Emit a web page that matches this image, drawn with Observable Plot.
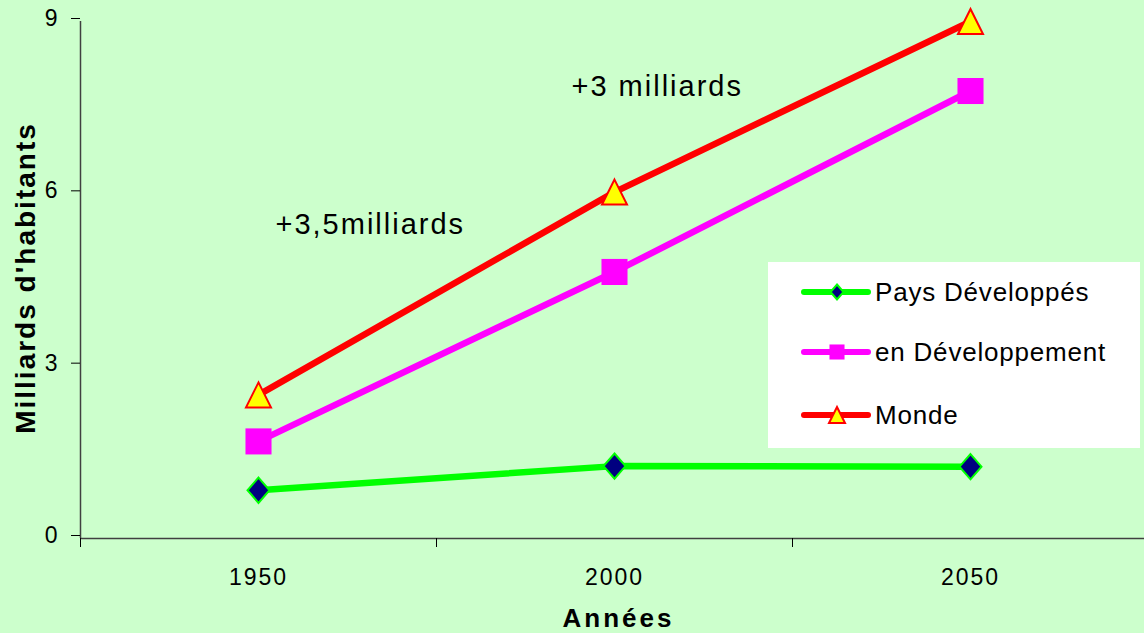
<!DOCTYPE html>
<html>
<head>
<meta charset="utf-8">
<script src="https://cdn.jsdelivr.net/npm/d3@7"></script>
<script src="https://cdn.jsdelivr.net/npm/@observablehq/plot@0.6"></script>
<style>
  html, body { margin: 0; padding: 0; background: #CCFFCC; }
  #chart { position: relative; width: 1144px; height: 633px; background: #CCFFCC; overflow: hidden;
           font-family: "Liberation Sans", Arial, sans-serif; }
  #chart svg text { font-family: "Liberation Sans", Arial, sans-serif; }
  g[aria-label="x-axis tick label"] text { letter-spacing: 2px; }
  g[aria-description="annotation"] text { letter-spacing: 2px; }
  g[aria-description="x-title"] text { letter-spacing: 3px; }
  g[aria-description="y-title"] text { letter-spacing: 2px; }
  #legend { position: absolute; left: 768px; top: 262px; width: 372px; height: 186px; background: #FFFFFF; }
  .lg-row { position: absolute; left: 0; height: 40px; display: flex; align-items: center; }
  .lg-row svg { display: block; }
  .lg-row span { font-size: 26px; letter-spacing: 0.8px; color: #000; margin-left: 4px; white-space: nowrap; }
</style>
</head>
<body>
<div id="chart"></div>
<script>
// ---- data ----
const years = [1950, 2000, 2050];
const paysDeveloppes = [0.84, 1.26, 1.25];
const enDeveloppement = [1.69, 4.64, 7.79];
const monde = [2.5, 6.03, 9.0];
const seriesNames = ["Pays Développés", "en Développement", "Monde"];
const yTicks = [0, 3, 6, 9];
const xBoundaries = [1925, 1975, 2025];
const annotationTexts = ["+3,5milliards", "+3 milliards"];
const annotationYears = [1965.7, 2006];
const annotationValues = [5.46, 7.86];
const xTitle = "Années";
const yTitle = "Milliards d'habitants";

// ---- styles ----
const diamondSym = { draw(ctx, size) { const r = Math.sqrt(size / Math.PI);
  ctx.moveTo(0, -r * 1.15); ctx.lineTo(r, 0); ctx.lineTo(0, r * 1.15); ctx.lineTo(-r, 0); ctx.closePath(); } };
const triangleSym = { draw(ctx, size) { const r = Math.sqrt(size / Math.PI);
  ctx.moveTo(0, -r); ctx.lineTo(r, r); ctx.lineTo(-r, r); ctx.closePath(); } };
const styles = [
  { line: "#00FF00", fill: "#000080", mstroke: "#00FF00", symbol: diamondSym, r: 11, lr: 6.5 },
  { line: "#FF00FF", fill: "#FF00FF", mstroke: "none", symbol: "square", r: 14.7, lr: 8.5 },
  { line: "#FF0000", fill: "#FFFF00", mstroke: "#FF0000", symbol: triangleSym, r: 12.5, lr: 8 }
];

const seriesValues = [paysDeveloppes, enDeveloppement, monde];
const seriesRows = seriesValues.map((vals, i) => years.map((y, j) => ({ series: seriesNames[i], year: y, value: vals[j] })));
const annotations = annotationTexts.map((t, i) => ({ text: t, year: annotationYears[i], value: annotationValues[i] }));

const marks = [
  Plot.ruleY([0], { stroke: "#404040", strokeWidth: 1.5 }),
  Plot.ruleX([xBoundaries[0]], { stroke: "#404040", strokeWidth: 1.5 }),
  Plot.axisY({ ticks: yTicks, tickSize: 9, tickPadding: 14, fontSize: 23, label: null, dy: -3, tickFormat: d => String(d) }),
  Plot.axisX({ ticks: xBoundaries, tickSize: 9, tickFormat: () => "", label: null }),
  Plot.axisX({ ticks: years, tickSize: 0, tickPadding: 30, fontSize: 23, label: null, tickFormat: d => String(d) })
];
seriesRows.forEach((rows, i) => {
  marks.push(Plot.line(rows, { x: "year", y: "value", stroke: styles[i].line, strokeWidth: 6.5, strokeLinejoin: "round", strokeLinecap: "round" }));
});
seriesRows.forEach((rows, i) => {
  marks.push(Plot.dot(rows, { x: "year", y: "value", symbol: styles[i].symbol, r: styles[i].r,
    fill: styles[i].fill, stroke: styles[i].mstroke, strokeWidth: 2 }));
});
marks.push(
  Plot.text(annotations, { x: "year", y: "value", text: "text", fontSize: 29, fill: "#000",
    textAnchor: "middle", lineAnchor: "middle", ariaDescription: "annotation" }),
  Plot.text([xTitle], { frameAnchor: "bottom", textAnchor: "middle", lineAnchor: "middle", dy: 80, dx: 4,
    fontSize: 26, fontWeight: "bold", fill: "#000", ariaDescription: "x-title" }),
  Plot.text([yTitle], { frameAnchor: "left", rotate: -90, textAnchor: "middle", lineAnchor: "middle", dx: -54, dy: -2,
    fontSize: 28, fontWeight: "bold", fill: "#000", ariaDescription: "y-title" })
);

const chart = Plot.plot({
  width: 1144,
  height: 633,
  marginLeft: 80,
  marginRight: -4,
  marginTop: 21,
  marginBottom: 95,
  style: { background: "transparent", fontFamily: "'Liberation Sans', Arial, sans-serif", color: "#000", overflow: "visible" },
  x: { type: "linear", domain: [xBoundaries[0], 2075] },
  y: { domain: [yTicks[0], yTicks[yTicks.length - 1]] },
  marks
});
const root = document.getElementById("chart");
root.appendChild(chart);

// ---- legend ----
const legend = document.createElement("div");
legend.id = "legend";
const rowCenters = [30, 90, 153];
seriesNames.forEach((name, i) => {
  const st = styles[i];
  const row = document.createElement("div");
  row.className = "lg-row";
  row.style.top = (rowCenters[i] - 20) + "px";
  row.style.left = "33px";
  const svg = d3.create("svg").attr("width", 70).attr("height", 40);
  svg.append("line").attr("x1", 3).attr("x2", 67).attr("y1", 20).attr("y2", 20)
    .attr("stroke", st.line).attr("stroke-width", 6).attr("stroke-linecap", "round");
  const size = Math.PI * st.lr * st.lr;
  const sym = typeof st.symbol === "string" ? d3.symbolSquare : st.symbol;
  svg.append("path").attr("d", d3.symbol(sym, size)()).attr("transform", "translate(36,20)")
    .attr("fill", st.fill).attr("stroke", st.mstroke).attr("stroke-width", 2);
  row.appendChild(svg.node());
  const span = document.createElement("span");
  span.textContent = name;
  row.appendChild(span);
  legend.appendChild(row);
});
root.appendChild(legend);
</script>
</body>
</html>
